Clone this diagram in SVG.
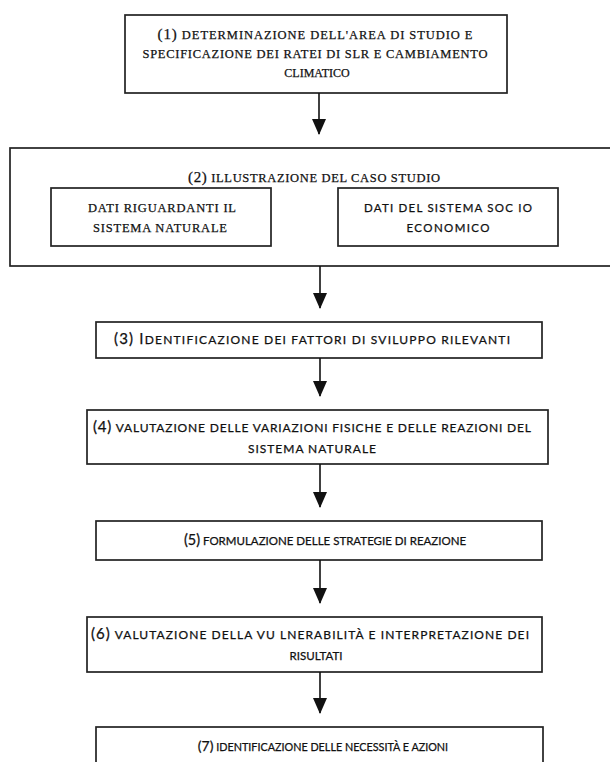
<svg xmlns="http://www.w3.org/2000/svg" width="610" height="762" viewBox="0 0 610 762">
<style>
.box{fill:#fff;stroke:#222;stroke-width:1.7}
.ser{font-family:"Liberation Serif","Times New Roman",serif;fill:#111;stroke:#111;stroke-width:0.25;text-anchor:middle;font-size:12.5px}
.san{font-family:Lato,"Open Sans","Liberation Sans",sans-serif;fill:#111;stroke:#111;stroke-width:0.25;text-anchor:middle;font-size:12px}
.big{font-size:15px}
.conn line{stroke:#111;stroke-width:1.6}
</style>
<defs>
<marker id="ah" markerWidth="16" markerHeight="14" refX="15" refY="7" orient="auto" markerUnits="userSpaceOnUse" viewBox="0 0 16 14">
<path d="M0,0 L16,7 L0,14 Z" fill="#111"/>
</marker>
</defs>
<rect width="610" height="762" fill="#fff"/>
<g id="n1">
<rect class="box" x="125" y="15" width="382" height="78"/>
<text class="ser" x="315" y="39" textLength="315"><tspan class="big">(1)</tspan> DETERMINAZIONE DELL'AREA DI STUDIO E</text>
<text class="ser" x="315" y="58" textLength="345">SPECIFICAZIONE DEI RATEI DI SLR E CAMBIAMENTO</text>
<text class="ser" x="317" y="77" style="font-size:12px">CLIMATICO</text>
</g>
<g id="n2">
<rect class="box" x="10" y="148" width="605" height="118"/>
<text class="ser" x="314" y="182" textLength="252"><tspan class="big">(2)</tspan> ILLUSTRAZIONE DEL CASO STUDIO</text>
</g>
<g id="n2a">
<rect class="box" x="51" y="188" width="220" height="58"/>
<text class="ser" x="162" y="212" textLength="148">DATI RIGUARDANTI IL</text>
<text class="ser" x="160" y="232" textLength="134">SISTEMA NATURALE</text>
</g>
<g id="n2b">
<rect class="box" x="338" y="188" width="220" height="58"/>
<text class="san" x="448" y="212" textLength="168" style="font-size:11.5px">DATI DEL SISTEMA SOC IO</text>
<text class="san" x="448" y="232" textLength="83" style="font-size:11.5px">ECONOMICO</text>
</g>
<g id="n3">
<rect class="box" x="96" y="322" width="446" height="36"/>
<text class="san" x="312" y="344" textLength="396"><tspan class="big">(3) I</tspan>DENTIFICAZIONE DEI FATTORI DI SVILUPPO RILEVANTI</text>
</g>
<g id="n4">
<rect class="box" x="87" y="410" width="461" height="54"/>
<text class="san" x="312" y="432" textLength="438"><tspan class="big">(4)</tspan> VALUTAZIONE DELLE VARIAZIONI FISICHE E DELLE REAZIONI DEL</text>
<text class="san" x="312" y="453" textLength="128">SISTEMA NATURALE</text>
</g>
<g id="n5">
<rect class="box" x="96" y="521" width="446" height="39"/>
<text class="san" x="325" y="545" style="font-size:11.5px"><tspan class="big" style="font-size:14.5px">(5)</tspan> FORMULAZIONE DELLE STRATEGIE DI REAZIONE</text>
</g>
<g id="n6">
<rect class="box" x="87" y="617" width="455" height="55"/>
<text class="san" x="310" y="639" textLength="438"><tspan class="big">(6)</tspan> VALUTAZIONE DELLA VU LNERABILITÀ E INTERPRETAZIONE DEI</text>
<text class="san" x="316" y="660" style="font-size:11.5px">RISULTATI</text>
</g>
<g id="n7">
<rect class="box" x="96" y="727" width="447" height="50"/>
<text class="san" x="323" y="751" style="font-size:10.8px"><tspan class="big" style="font-size:14px">(7)</tspan> IDENTIFICAZIONE DELLE NECESSITÀ E AZIONI</text>
</g>
<g class="conn" id="connectors">
<line x1="319" y1="93" x2="319" y2="134" marker-end="url(#ah)"/>
<line x1="320" y1="266" x2="320" y2="308" marker-end="url(#ah)"/>
<line x1="320" y1="358" x2="320" y2="396" marker-end="url(#ah)"/>
<line x1="320" y1="464" x2="320" y2="507" marker-end="url(#ah)"/>
<line x1="320" y1="560" x2="320" y2="603" marker-end="url(#ah)"/>
<line x1="320" y1="672" x2="320" y2="713" marker-end="url(#ah)"/>
</g>
</svg>
